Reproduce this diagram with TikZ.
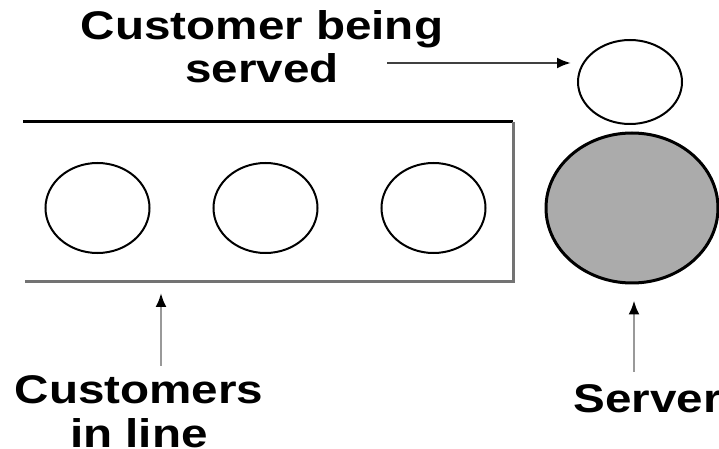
\documentclass[tikz,border=0pt]{standalone}
\usepackage{fontspec}
\setsansfont{Liberation Sans}[FakeStretch=1.19]
\usetikzlibrary{shapes.geometric,arrows.meta}
\begin{document}
\begin{tikzpicture}[x=0.5pt,y=-0.5pt,font=\sffamily\bfseries\fontsize{20}{21.5}\selectfont,
    guest/.style={draw,ellipse,line width=1pt,inner sep=0pt,minimum width=52pt,minimum height=45pt},
    pointer/.style={line width=1.2pt,-{Latex[length=7pt,width=5.5pt,color=black]}}]
    \useasboundingbox (0,0) rectangle (719,449);

    \coordinate (qtopleft) at (23,122);
    \coordinate (qcorner) at (513,122);
    \coordinate (qbotright) at (513,282);
    \coordinate (qbotleft) at (25,282);
    \draw[line width=1.5pt] (qtopleft) -- (qcorner);
    \draw[line width=1.5pt,black!55] (qcorner) -- (qbotright) -- (qbotleft);

    \foreach \i/\x in {1/97.5,2/265.5,3/433.5}
      \node[guest] (q\i) at (\x,208) {};

    \node[guest,minimum height=42pt] (served) at (630,82) {};
    \node[draw,ellipse,line width=1.5pt,fill=black!33,inner sep=0pt,minimum width=86pt,minimum height=75pt] (server) at (632,208) {};

    \node[anchor=base,align=center] (servedlbl) at (262,83) {Customer being\\served};
    \node[anchor=base,align=center] (linelbl) at (139,447) {Customers\\in line};
    \node[anchor=base west,inner sep=0pt] (serverlbl) at (573,413) {Server};

    \coordinate (servedtail) at (387,63);
    \coordinate (linetail) at (161,366);
    \coordinate (servertail) at (634,372);
    \draw[pointer,black!75,shorten >=3pt] (servedtail) -- (servedtail -| served.west);
    \draw[pointer,black!40,shorten >=5.5pt] (linetail) -- (linetail |- qbotleft);
    \draw[pointer,black!40,shorten >=8pt] (servertail) -- (servertail |- server.south);
  \end{tikzpicture}
\end{document}
